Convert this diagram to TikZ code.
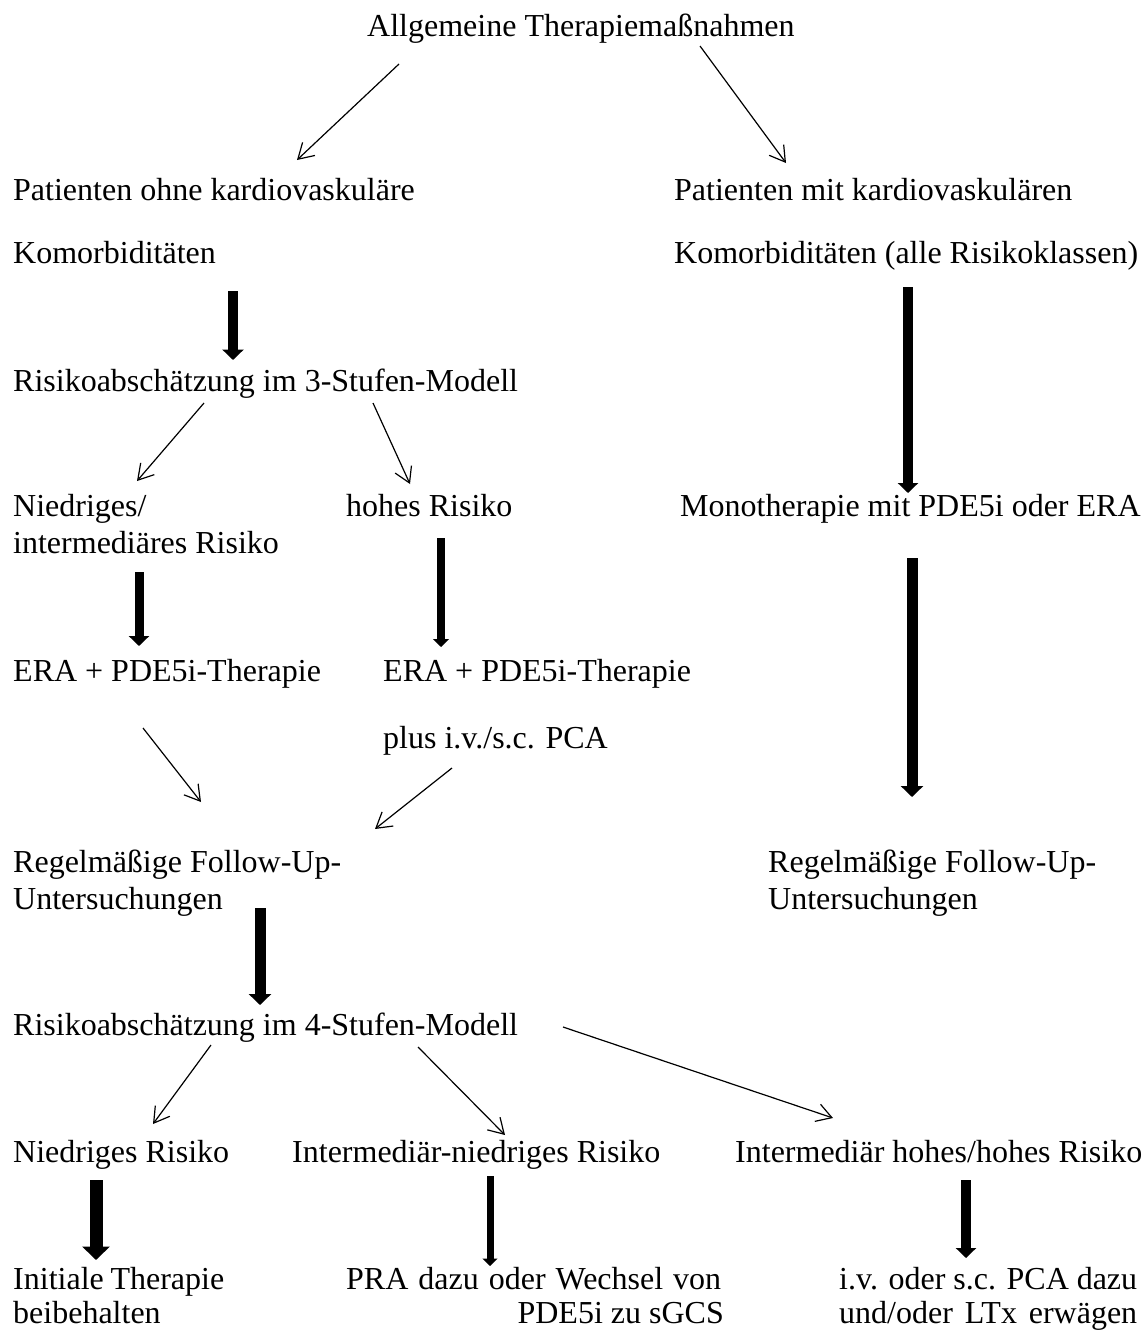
\documentclass[tikz,border=0pt]{standalone}
\usepackage{fontspec}
\setmainfont{Liberation Serif}
\usetikzlibrary{arrows.meta}
\begin{document}
\begin{tikzpicture}[x=1pt,y=-1pt,
  txt/.style={inner sep=0pt, anchor=base west, font={\fontsize{32}{36}\selectfont}},
  txtr/.style={txt, anchor=base east},
  thinarrow/.style={line width=1.2pt, -{Straight Barb[length=15pt,width=18pt,line width=1.2pt]}},
  thickarrow/.style 2 args={line width=#1pt, -{Triangle[length=#2pt*0.5,width=#2pt]}}]
\useasboundingbox (0,0) rectangle (1146,1331);
% texts
\node[txt] (title) at (367,36) {Allgemeine Therapiemaßnahmen};
\node[txt] (pol1) at (13,200) {Patienten ohne kardiovaskuläre};
\node[txt] (pol2) at (13,263) {Komorbiditäten};
\node[txt] (pml1) at (674,200) {Patienten mit kardiovaskulären};
\node[txt] (pml2) at (674,263) {Komorbiditäten (alle Risikoklassen)};
\node[txt] (r3) at (13,391) {Risikoabschätzung im 3-Stufen-Modell};
\node[txt] (ni1) at (13,516) {Niedriges/};
\node[txt] (ni2) at (13,553) {intermediäres Risiko};
\node[txt] (hr) at (346,516) {hohes Risiko};
\node[txt] (mono) at (680,516) {Monotherapie mit PDE5i oder ERA};
\node[txt] (era1) at (13,681) {ERA + PDE5i-Therapie};
\node[txt] (era2) at (383,681) {ERA + PDE5i-Therapie};
\node[txt] (plus) at (383,748) {plus i.v./s.c. PCA};
\node[txt] (fl1) at (13,872) {Regelmäßige Follow-Up-};
\node[txt] (fl2) at (13,909) {Untersuchungen};
\node[txt] (fr1) at (768,872) {Regelmäßige Follow-Up-};
\node[txt] (fr2) at (768,909) {Untersuchungen};
\node[txt] (r4) at (13,1035) {Risikoabschätzung im 4-Stufen-Modell};
\node[txt] (nr) at (13,1162) {Niedriges Risiko};
\node[txt] (inr) at (292,1162) {Intermediär-niedriges Risiko};
\node[txt] (ihr) at (735,1162) {Intermediär hohes/hohes Risiko};
\node[txt] (it1) at (13,1289) {\makebox[211pt][s]{Initiale Therapie}};
\node[txt] (it2) at (13,1323) {beibehalten};
\node[txt] (pra1) at (346,1289) {\makebox[375pt][s]{PRA dazu oder Wechsel von}};
\node[txtr] (pra2) at (724,1323) {PDE5i zu sGCS};
\node[txt] (iv1) at (839,1289) {\makebox[298pt][s]{i.v. oder s.c. PCA dazu}};
\node[txt] (iv2) at (839,1323) {\makebox[298pt][s]{und/oder LTx erwägen}};
% thin arrow endpoints
\coordinate (t1-s) at (399,64);   \coordinate (t1-e) at (297,160);
\coordinate (t2-s) at (700,46);   \coordinate (t2-e) at (786,163);
\coordinate (t3-s) at (204,403);  \coordinate (t3-e) at (137,481);
\coordinate (t4-s) at (373,403);  \coordinate (t4-e) at (410,484);
\coordinate (t5-s) at (143,728);  \coordinate (t5-e) at (201,802);
\coordinate (t6-s) at (452,768);  \coordinate (t6-e) at (375,829);
\coordinate (t7-s) at (211,1045); \coordinate (t7-e) at (153,1124);
\coordinate (t8-s) at (418,1047); \coordinate (t8-e) at (505,1135);
\coordinate (t9-s) at (563,1027); \coordinate (t9-e) at (833,1118);
\foreach \i in {1,...,9} {\draw[thinarrow] (t\i-s) -- (t\i-e);}
% thick arrow endpoints
\coordinate (ka-s) at (233,291);  \coordinate (ka-e) at (233,360);
\coordinate (kb-s) at (908,287);  \coordinate (kb-e) at (908,493);
\coordinate (kc-s) at (139,572);  \coordinate (kc-e) at (139,646);
\coordinate (kd-s) at (441,538);  \coordinate (kd-e) at (441,647);
\coordinate (ke-s) at (912,558);  \coordinate (ke-e) at (912,797);
\coordinate (kf-s) at (260,908);  \coordinate (kf-e) at (260,1005);
\coordinate (kg-s) at (96,1180);  \coordinate (kg-e) at (96,1260);
\coordinate (kh-s) at (490,1176); \coordinate (kh-e) at (490,1266);
\coordinate (ki-s) at (966,1180); \coordinate (ki-e) at (966,1258);
\draw[thickarrow={10}{21}] (ka-s) -- (ka-e);
\draw[thickarrow={10}{20}] (kb-s) -- (kb-e);
\draw[thickarrow={9}{20}]  (kc-s) -- (kc-e);
\draw[thickarrow={8}{16}]  (kd-s) -- (kd-e);
\draw[thickarrow={11}{22}] (ke-s) -- (ke-e);
\draw[thickarrow={11}{22}] (kf-s) -- (kf-e);
\draw[thickarrow={13}{27}] (kg-s) -- (kg-e);
\draw[thickarrow={7}{15}]  (kh-s) -- (kh-e);
\draw[thickarrow={10}{20}] (ki-s) -- (ki-e);
\end{tikzpicture}
\end{document}
